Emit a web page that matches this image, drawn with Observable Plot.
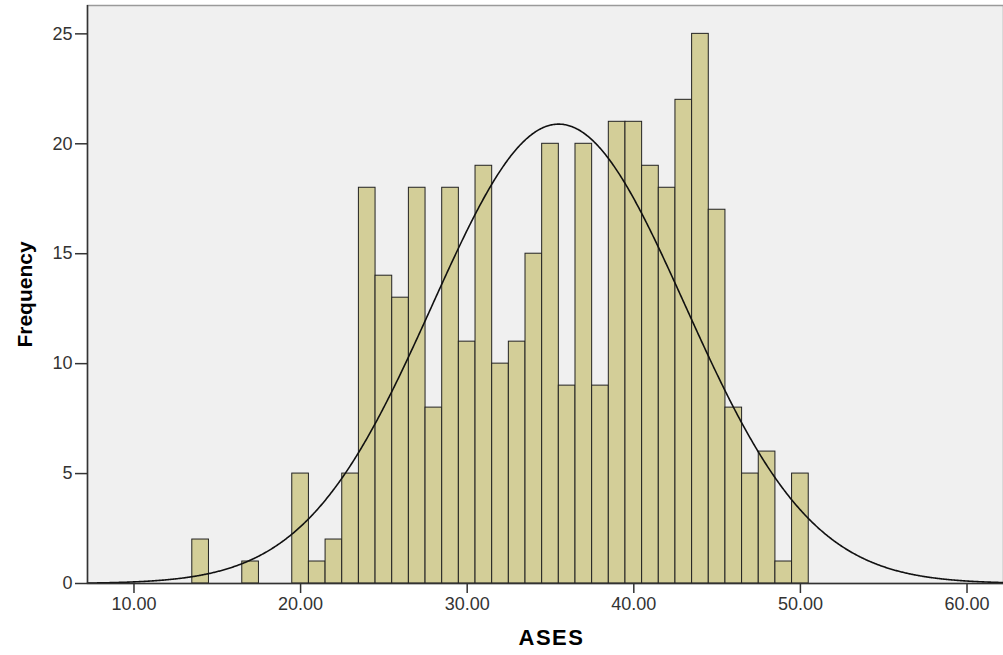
<!DOCTYPE html>
<html>
<head>
<meta charset="utf-8">
<script src="https://cdn.jsdelivr.net/npm/d3@7"></script>
<script src="https://cdn.jsdelivr.net/npm/@observablehq/plot@0.6"></script>
<style>
  body { margin: 0; background: #ffffff; }
  #chart svg { display: block; }
</style>
</head>
<body>
<div id="chart"></div>
<script>
// Histogram bins (centres, width 1) and frequencies
const binCenters = [14, 17, 20, 21, 22, 23, 24, 25, 26, 27, 28, 29, 30, 31, 32, 33, 34, 35, 36, 37, 38, 39, 40, 41, 42, 43, 44, 45, 46, 47, 48, 49, 50];
const counts     = [ 2,  1,  5,  1,  2,  5, 18, 14, 13, 18,  8, 18, 11, 19, 10, 11, 15, 20,  9, 20,  9, 21, 21, 19, 18, 22, 25, 17,  8,  5,  6,  1,  5];
const binWidth = 1;

// Fitted normal curve parameters
const nObs = 397;
const meanASES = 35.49;
const sdASES = 7.58;

// Axis ticks
const xTicks = [10, 20, 30, 40, 50, 60];
const yTicks = [0, 5, 10, 15, 20, 25];

const xDomain = [7.21, 62.19];
const yDomain = [0, 26.29];

const bars = binCenters.map((c, i) => ({x1: c - binWidth / 2, x2: c + binWidth / 2, count: counts[i]}));

const curve = d3.range(xDomain[0], xDomain[1] + 0.001, 0.05).map(x => ({
  x,
  y: nObs * binWidth * Math.exp(-0.5 * ((x - meanASES) / sdASES) ** 2) / (sdASES * Math.sqrt(2 * Math.PI))
}));

const chart = Plot.plot({
  width: 1003,
  height: 655,
  marginLeft: 87,
  marginRight: 0,
  marginTop: 5,
  marginBottom: 72,
  style: {fontFamily: "'Liberation Sans', Arial, sans-serif", fontSize: "17px", background: "#ffffff", color: "#222"},
  x: {domain: xDomain, label: null},
  y: {domain: yDomain, label: null},
  marks: [
    Plot.frame({fill: "#f0f0f0", stroke: "#9a9a9a", strokeWidth: 1.5}),
    Plot.rectY(bars, {x1: "x1", x2: "x2", y: "count", fill: "#d3ce98", stroke: "#222", strokeWidth: 1, inset: 0}),
    Plot.line(curve, {x: "x", y: "y", stroke: "#111", strokeWidth: 1.6}),
    Plot.ruleX([xDomain[0]], {stroke: "#333", strokeWidth: 1.5}),
    Plot.ruleY([0], {stroke: "#333", strokeWidth: 1.5}),
    Plot.axisX({ticks: xTicks, tickFormat: d => d.toFixed(2), tickSize: 10, tickPadding: 4, label: null, stroke: "#333", strokeWidth: 1.5, fill: "#333", fontSize: 18}),
    Plot.axisY({ticks: yTicks, tickSize: 12, tickPadding: 3, label: null, stroke: "#333", strokeWidth: 1.5, fill: "#333", fontSize: 18}),
    Plot.text(["Frequency"], {frameAnchor: "left", dx: -62, rotate: -90, text: d => d, fontSize: 21, fontWeight: "bold", fill: "#000", lineAnchor: "middle", textAnchor: "middle"}),
    Plot.text(["ASES"], {frameAnchor: "bottom", dx: 6, dy: 54, text: d => d, fontSize: 22, fontWeight: "bold", fill: "#000", lineAnchor: "middle", textAnchor: "middle"})
  ]
});

// Slightly wider letter spacing for the x-axis title, as in the reference
d3.select(chart).selectAll("text").filter(function() { return this.textContent === "ASES"; })
  .style("letter-spacing", "1.5px");

document.getElementById("chart").appendChild(chart);
</script>
</body>
</html>
